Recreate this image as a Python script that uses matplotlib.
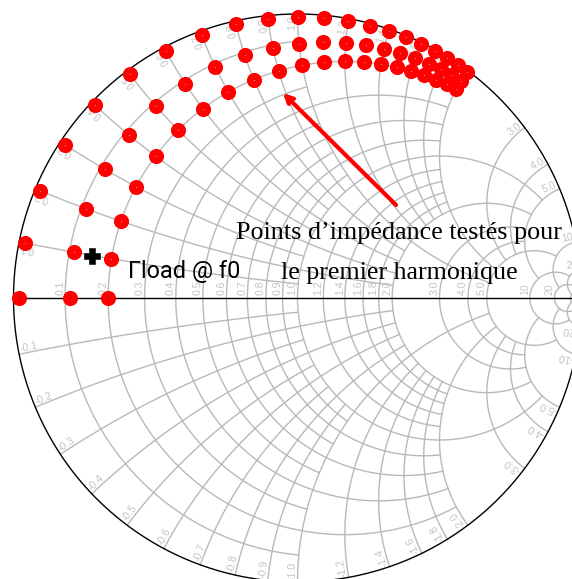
import numpy as np
import matplotlib
matplotlib.use("Agg")
import matplotlib.pyplot as plt

# impedance points tested, normalised r + jx
reactance = [0.0, 0.1, 0.2, 0.3, 0.4, 0.5, 0.6, 0.7, 0.8, 0.9, 1.0,
             1.1, 1.2, 1.3, 1.4, 1.5, 1.6, 1.7, 1.8, 1.9, 2.0]
resistance_rows = [0.01, 0.11, 0.2]

# gamma load marker (real, imag of reflection coefficient)
gamma_f0_re = -0.725
gamma_f0_im = 0.148

# grid: value and how far the arc runs
r_grid = [0.1, 0.2, 0.3, 0.4, 0.5, 0.6, 0.7, 0.8, 0.9, 1.0, 1.2, 1.4, 1.6, 1.8, 2.0, 3.0, 4.0, 5.0, 10, 20, 50]
r_stop = [1, 2, 1, 2, 1, 2, 1, 2, 1, 5, 2, 2, 2, 2, 5, 5, 5, 10, 20, 50, 100]
x_grid = [0.1, 0.2, 0.3, 0.4, 0.5, 0.6, 0.7, 0.8, 0.9, 1.0, 1.2, 1.4, 1.6, 1.8, 2.0, 3.0, 4.0, 5.0, 10, 20, 50]
x_stop = [1, 2, 1, 2, 1, 2, 1, 2, 1, 5, 2, 2, 2, 2, 5, 5, 5, 10, 20, 50, 100]

GRID = "#b9b9b9"
LABEL = "#c4c4c4"
R_PX = 284.0
CX = 297.5
CY = 298.0


def gamma(z):
    return (z - 1) / (z + 1)


def fmt(v):
    return "%.1f" % v if v < 10 else "%d" % v


fig = plt.figure(figsize=(5.72, 5.79), dpi=100)
ax = fig.add_axes([0, 0, 1, 1])
ax.set_xlim(-CX / R_PX, (572 - CX) / R_PX)
ax.set_ylim((CY - 579) / R_PX, CY / R_PX)
ax.axis("off")

for r, stop in zip(r_grid, r_stop):
    xs = np.concatenate([np.linspace(-stop, 0, 300), np.linspace(0, stop, 300)])
    g = gamma(r + 1j * xs)
    ax.plot(g.real, g.imag, color=GRID, lw=1.0, zorder=1)

for x, stop in zip(x_grid, x_stop):
    rs = np.concatenate([[0], np.geomspace(0.001, stop, 500)])
    for sign in (1, -1):
        g = gamma(rs + sign * 1j * x)
        ax.plot(g.real, g.imag, color=GRID, lw=1.0, zorder=1)

# resistance labels sit above the real axis, none for 50
for r in r_grid[:-1]:
    g = gamma(r + 0j)
    ax.annotate(fmt(r), (g.real, 0), xytext=(-5, 3), textcoords="offset pixels", rotation=90,
                ha="center", va="bottom", fontsize=7.6, color=LABEL, family="Liberation Sans")

# reactance labels follow the arc at the rim
for x in x_grid[:-1]:
    g = gamma(1j * x)
    theta = np.degrees(np.angle(g))
    ax.text(0.993 * g.real, 0.993 * g.imag, fmt(x), rotation=theta, rotation_mode="anchor",
            ha="right", va="bottom", fontsize=7.6, color=LABEL, family="Liberation Sans")
    ax.text(0.993 * g.real, -0.993 * g.imag, "-" + fmt(x), rotation=180 - theta, rotation_mode="anchor",
            ha="left", va="bottom", fontsize=7.6, color=LABEL, family="Liberation Sans")

t = np.linspace(0, 2 * np.pi, 800)
ax.plot(np.cos(t), np.sin(t), color="black", lw=1.0, zorder=2)
ax.plot([-1, 1], [0, 0], color="black", lw=1.0, zorder=2)

for r in resistance_rows:
    g = gamma(r + 1j * np.array(reactance))
    ax.plot(g.real, g.imag, "o", color="#ff0000", ms=10.9, mew=0, zorder=3)
    ax.plot(g.real[1:], g.imag[1:], "o", color="white", ms=0.45, mew=0, zorder=4)
    ax.plot(g.real[:1], g.imag[:1], "o", color="black", ms=0.45, mew=0, zorder=4)

ax.plot([gamma_f0_re], [gamma_f0_im], "P", color="black", ms=11.5, mew=0.4, zorder=5)

ax.annotate("", xy=((283 - CX) / R_PX, (CY - 93) / R_PX), xytext=((396 - CX) / R_PX, (CY - 205) / R_PX),
            arrowprops=dict(arrowstyle="->", color="#ff0000", lw=3.0, mutation_scale=13, shrinkA=0, shrinkB=0), zorder=5)

ax.text((236 - CX) / R_PX, (CY - 239) / R_PX, "Points d’impédance testés pour", family="Liberation Serif",
        fontsize=18.8, color="black", zorder=6)
ax.text((281 - CX) / R_PX, (CY - 279) / R_PX, "le premier harmonique", family="Liberation Serif",
        fontsize=18.7, color="black", zorder=6)
ax.text((128 - CX) / R_PX, (CY - 278) / R_PX, "Γload @ f0", family="Roboto",
        fontsize=16.9, color="black", zorder=6)

fig.savefig("out.png", dpi=100)
